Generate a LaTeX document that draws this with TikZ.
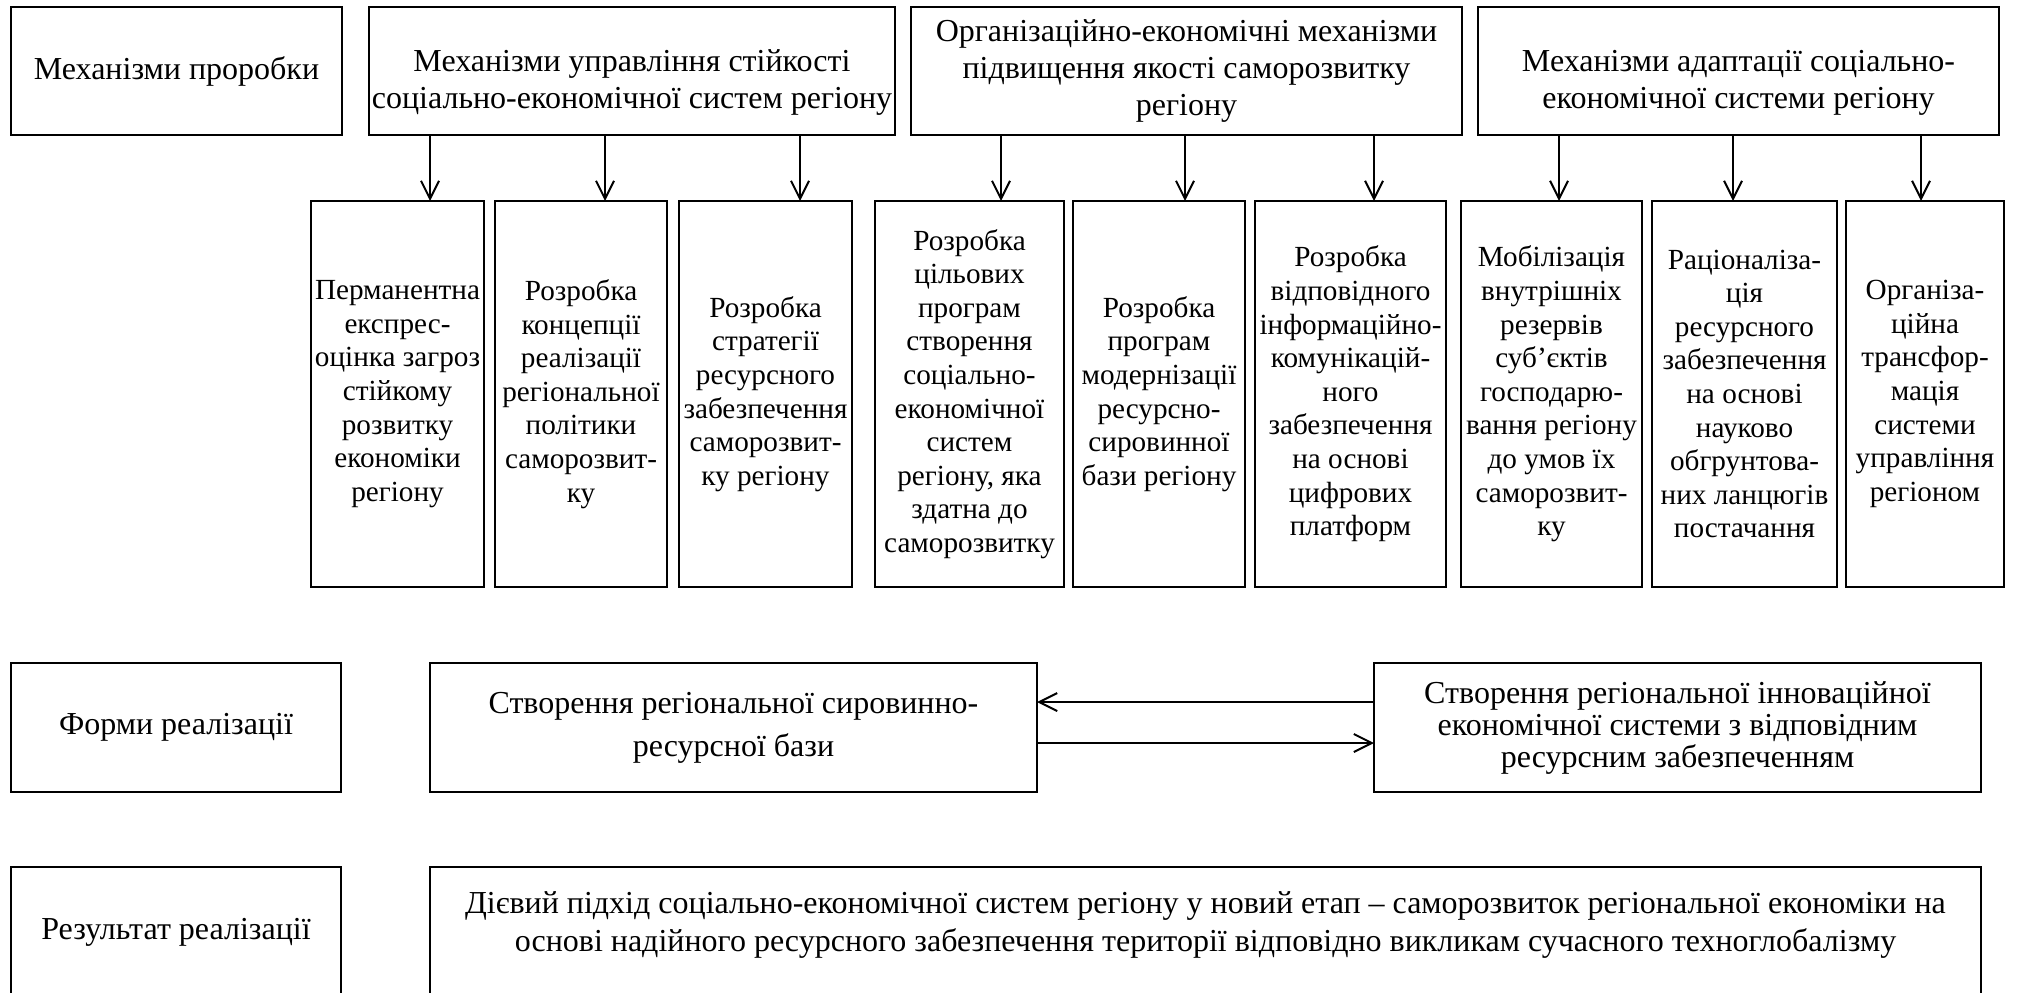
\documentclass[tikz,border=0pt]{standalone}
\usepackage{fontspec}
\setmainfont{Liberation Serif}
\usetikzlibrary{positioning,arrows.meta}

\begin{document}
\begin{tikzpicture}[x=0.5pt, y=-0.5pt, >={Straight Barb[length=9pt,width=9pt]},
  every node/.style={draw=black, line width=1.1pt, outer sep=0pt, inner xsep=1pt, inner ysep=2pt, align=center, font=\fontsize{14.6}{16.8}\selectfont},
  leading/.style={font=\fontsize{16}{#1}\selectfont},
  headbox/.style={minimum height=64pt},
  colbox/.style={minimum height=193pt},
  formbox/.style={minimum height=64.5pt},
  resbox/.style={minimum height=65.5pt}]
  \useasboundingbox (0,0) rectangle (2017,992);
  \clip (0,0) rectangle (2017,992);
  % mechanisms
  \node[headbox, leading=18.5pt, minimum width=165.5pt] (t1) at (176.5,71) {Механізми проробки};
  \node[headbox, leading=18.5pt, minimum width=263pt, right=13.5pt of t1] (t2) {\rule{0pt}{22pt}Механізми управління стійкості\\соціально-економічної систем регіону};
  \node[headbox, leading=18.5pt, minimum width=275.5pt, right=8pt of t2] (t3) {Організаційно-економічні механізми\\підвищення якості саморозвитку\\регіону};
  \node[headbox, leading=18.5pt, minimum width=260.5pt, right=8pt of t3] (t4) {\rule{0pt}{22pt}Механізми адаптації соціально-\\економічної системи регіону};
  % measures
  \node[colbox, minimum width=86.5pt] (l1) at (397.5,394) {Перманентна\\експрес-\\оцінка загроз\\стійкому\\розвитку\\економіки\\регіону};
  \node[colbox, minimum width=86pt, right=5.5pt of l1] (l2) {Розробка\\концепції\\реалізації\\регіональної\\політики\\саморозвит-\\ку};
  \node[colbox, minimum width=86.5pt, right=6pt of l2] (l3) {Розробка\\стратегії\\ресурсного\\забезпечення\\саморозвит-\\ку регіону};
  \node[colbox, minimum width=94.5pt, right=11.5pt of l3] (l4) {Розробка\\цільових\\програм\\створення\\соціально-\\економічної\\систем\\регіону, яка\\здатна до\\саморозвитку};
  \node[colbox, minimum width=86pt, right=4.5pt of l4] (l5) {Розробка\\програм\\модернізації\\ресурсно-\\сировинної\\бази регіону};
  \node[colbox, minimum width=95.5pt, right=5pt of l5] (l6) {Розробка\\відповідного\\інформаційно-\\комунікацій-\\ного\\забезпечення\\на основі\\цифрових\\платформ};
  \node[colbox, minimum width=90.5pt, right=7.5pt of l6] (l7) {Мобілізація\\внутрішніх\\резервів\\суб’єктів\\господарю-\\вання регіону\\до умов їх\\саморозвит-\\ку};
  \node[colbox, minimum width=92.5pt, right=5pt of l7] (l8) {Раціоналіза-\\ція\\ресурсного\\забезпечення\\на основі\\науково\\обгрунтова-\\них ланцюгів\\постачання};
  \node[colbox, minimum width=79pt, right=4.5pt of l8] (l9) {Організа-\\ційна\\трансфор-\\мація\\системи\\управління\\регіоном};
  % forms
  \node[formbox, leading=18.5pt, minimum width=165pt] (f1) at (176,727.5) {Форми реалізації};
  \node[formbox, leading=21.5pt, minimum width=303.5pt, right=44.5pt of f1] (f2) {Створення регіональної сировинно-\\ресурсної бази};
  \node[formbox, leading=16pt, minimum width=303.5pt, right=168.5pt of f2] (f3) {Створення регіональної інноваційної\\економічної системи з відповідним\\ресурсним забезпеченням};
  % result
  \node[resbox, leading=18.5pt, minimum width=165pt] (r1) at (176,932.5) {Результат реалізації};
  \node[resbox, leading=19pt, minimum width=775.5pt, right=44.5pt of r1] (r2) {Дієвий підхід соціально-економічної систем регіону у новий етап – саморозвиток регіональної економіки на\\основі надійного ресурсного забезпечення території відповідно викликам сучасного техноглобалізму\rule[-10.5pt]{0pt}{10.5pt}};
  \draw[->, line width=1pt] ([xshift=30.5pt]t2.south west) -- ([xshift=16.25pt]l1.north);
  \draw[->, line width=1pt] ([xshift=118pt]t2.south west) -- ([xshift=12pt]l2.north);
  \draw[->, line width=1pt] ([xshift=215.5pt]t2.south west) -- ([xshift=17.25pt]l3.north);
  \draw[->, line width=1pt] ([xshift=45pt]t3.south west) -- ([xshift=15.75pt]l4.north);
  \draw[->, line width=1pt] ([xshift=137pt]t3.south west) -- ([xshift=13pt]l5.north);
  \draw[->, line width=1pt] ([xshift=231.5pt]t3.south west) -- ([xshift=11.75pt]l6.north);
  \draw[->, line width=1pt] ([xshift=40.5pt]t4.south west) -- ([xshift=3.75pt]l7.north);
  \draw[->, line width=1pt] ([xshift=127.5pt]t4.south west) -- ([xshift=-5.75pt]l8.north);
  \draw[->, line width=1pt] ([xshift=221.5pt]t4.south west) -- ([xshift=-2pt]l9.north);
  \draw[->, line width=1pt] ([yshift=12.75pt]f3.west) -- ([yshift=12.75pt]f2.east);
  \draw[->, line width=1pt] ([yshift=-7.75pt]f2.east) -- ([yshift=-7.75pt]f3.west);
\end{tikzpicture}
\end{document}
